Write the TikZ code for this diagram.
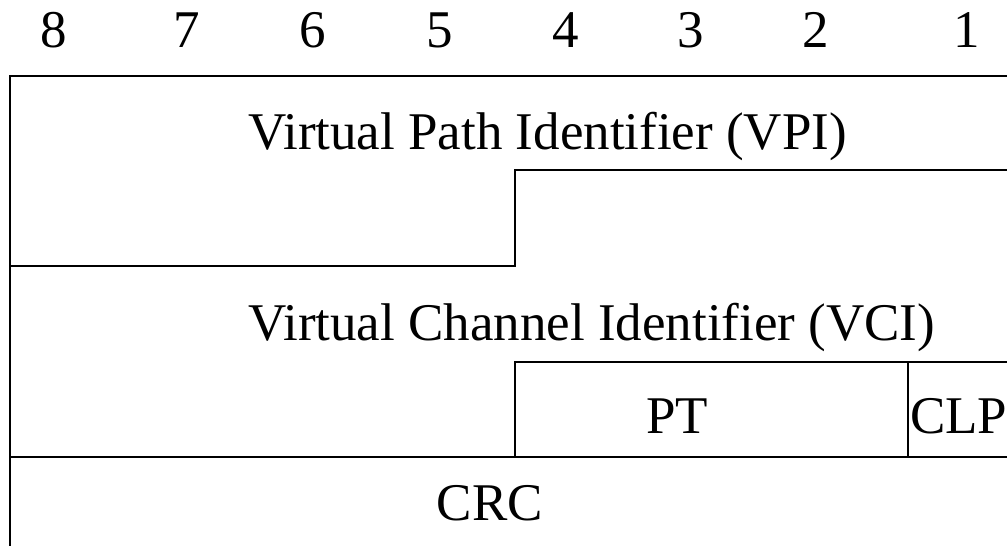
\documentclass[tikz,border=0pt]{standalone}
\usepackage{fontspec}
\setmainfont{Liberation Serif}
\begin{document}
\begin{tikzpicture}[x=1pt,y=-1pt,
  rule/.style={line width=2.4pt,line cap=butt},
  lbl/.style={font=\fontsize{53}{60}\selectfont,inner sep=0pt,anchor=base},
  lblw/.style={font=\fontsize{53}{60}\selectfont,inner sep=0pt,anchor=base west}]
\useasboundingbox (0,0) rectangle (1007,546);
% bit numbers
\node[lbl] (b8) at (54,47) {8};
\node[lbl] (b7) at (187,47) {7};
\node[lbl] (b6) at (313,47) {6};
\node[lbl] (b5) at (440,47) {5};
\node[lbl] (b4) at (566,47) {4};
\node[lbl] (b3) at (691,47) {3};
\node[lbl] (b2) at (816,47) {2};
\node[lbl] (b1) at (967,47) {1};
% grid
\draw[rule] (1008,76) -- (10,76) -- (10,547);
\draw[rule] (10,266) -- (515,266) -- (515,170) -- (1008,170);
\draw[rule] (1008,362) -- (515,362) -- (515,457);
\draw[rule] (908,362) -- (908,457);
\draw[rule] (10,457) -- (1008,457);
% labels
\node[lblw] (vpi) at (248,149) {Virtual Path Identifier (VPI)};
\node[lblw] (vci) at (248,340) {Virtual Channel Identifier (VCI)};
\node[lbl] (pt) at (677,433) {PT};
\node[lblw] (clp) at (910,433) {CLP};
\node[lbl] (crc) at (490,520) {CRC};
\end{tikzpicture}
\end{document}
